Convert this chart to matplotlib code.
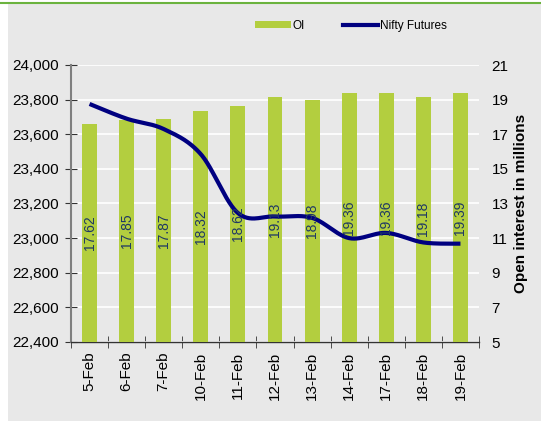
import matplotlib
matplotlib.use("Agg")
import matplotlib.pyplot as plt
import numpy as np
from matplotlib.patches import Rectangle
from matplotlib.lines import Line2D

dates = ["5-Feb", "6-Feb", "7-Feb", "10-Feb", "11-Feb", "12-Feb", "13-Feb",
         "14-Feb", "17-Feb", "18-Feb", "19-Feb"]
oi = [17.62, 17.85, 17.87, 18.32, 18.62, 19.13, 18.98, 19.36, 19.36, 19.18, 19.39]
nifty = [23775, 23690, 23630, 23485, 23145, 23125, 23117, 23000, 23030, 22975, 22968]
left_ticks = list(range(22400, 24001, 200))
right_ticks = list(range(5, 22, 2))

plt.rcParams['font.family'] = ['Liberation Sans', 'DejaVu Sans']

BG = "#E8E8E8"
GREEN = "#B3CE3F"
NAVY = "#000080"
LABEL = "#1F3864"

fig = plt.figure(figsize=(5.41, 4.21), dpi=100)
fig.patch.set_facecolor("white")
fig.add_artist(Rectangle((8/541, 0), 1 - 8/541, 1 - 4/421, transform=fig.transFigure,
                         facecolor=BG, edgecolor="none", zorder=-10))
fig.add_artist(Line2D([0, 1], [1 - 2.5/421, 1 - 2.5/421], transform=fig.transFigure,
                      color="#6BB33E", lw=1.5))

ax = fig.add_axes([71/541, 1 - 342/421, (479-71)/541, (342-65)/421])
ax.set_facecolor(BG)
ax2 = ax.twinx()

x = np.arange(len(dates))

# bars on right axis
ax2.bar(x, oi, width=0.4, bottom=0, color=GREEN, zorder=2)
ax2.set_ylim(5, 21)
ax2.set_yticks(right_ticks)
for xi, v in zip(x, oi):
    ax2.text(xi, (5 + v) / 2, f"{v:.2f}", rotation=90, ha="center", va="center",
             color=LABEL, fontsize=10, zorder=5)

# smooth line (Excel-style Bezier through the points)
def smooth(xs, ys, n=30):
    P = np.column_stack([xs, ys]).astype(float)
    out = []
    for i in range(len(P) - 1):
        p0 = P[i - 1] if i > 0 else P[i]
        p1 = P[i]
        p2 = P[i + 1]
        p3 = P[i + 2] if i + 2 < len(P) else P[i + 1]
        c1 = p1 + (p2 - p0) / 6
        c2 = p2 - (p3 - p1) / 6
        t = np.linspace(0, 1, n)[:, None]
        seg = (1-t)**3 * p1 + 3*(1-t)**2*t * c1 + 3*(1-t)*t**2 * c2 + t**3 * p2
        out.append(seg if i == 0 else seg[1:])
    return np.vstack(out)

def to_right(v):
    return 5 + (np.asarray(v) - 22400) / 1600 * 16

curve = smooth(x, nifty)
ax2.plot(curve[:, 0], to_right(curve[:, 1]), color=NAVY, lw=3, zorder=4,
         solid_capstyle="butt")

ax.set_ylim(22400, 24000)
ax.set_yticks(left_ticks)
ax.set_yticklabels([f"{t:,}" for t in left_ticks], fontsize=11)
ax.set_xlim(-0.5, len(dates) - 0.5)
ax.set_xticks(x)
ax.set_xticklabels(dates, rotation=90, fontsize=11)
ax.set_xticks(np.arange(-0.5, len(dates), 1), minor=True)
ax.tick_params(axis="x", which="major", length=0, pad=7)
ax.tick_params(axis="x", which="minor", length=9, direction="inout", color="#333333")
ax.tick_params(axis="y", length=9, direction="inout", color="#333333", pad=4)
ax.grid(axis="y", color="white", lw=1.2, zorder=0)
ax.set_axisbelow(True)

ax2.tick_params(axis="y", length=0, labelsize=11, pad=9)
ax2.set_ylabel("Open interest in millions", fontsize=11, fontweight="bold", labelpad=4)

for a in (ax, ax2):
    for s in ("top", "right"):
        a.spines[s].set_visible(False)
ax2.spines["left"].set_visible(False)
ax2.spines["bottom"].set_visible(False)
ax.spines["left"].set_color("#7F7F7F")
ax.spines["left"].set_linewidth(1.5)
ax.spines["bottom"].set_color("#333333")
ax.spines["bottom"].set_linewidth(1)

# legend
handles = [Rectangle((0, 0), 1, 1, facecolor=GREEN, edgecolor="none"),
           Line2D([0], [0], color=NAVY, lw=3)]
fig.legend(handles, ["OI", "Nifty Futures"], loc="center", ncol=2,
           bbox_to_anchor=(351/541, 1 - 26/421), frameon=False, fontsize=8.5,
           handlelength=3.0, handleheight=0.5, handletextpad=0.15, columnspacing=3.2)

fig.savefig("out.png", dpi=100, facecolor=fig.get_facecolor())
